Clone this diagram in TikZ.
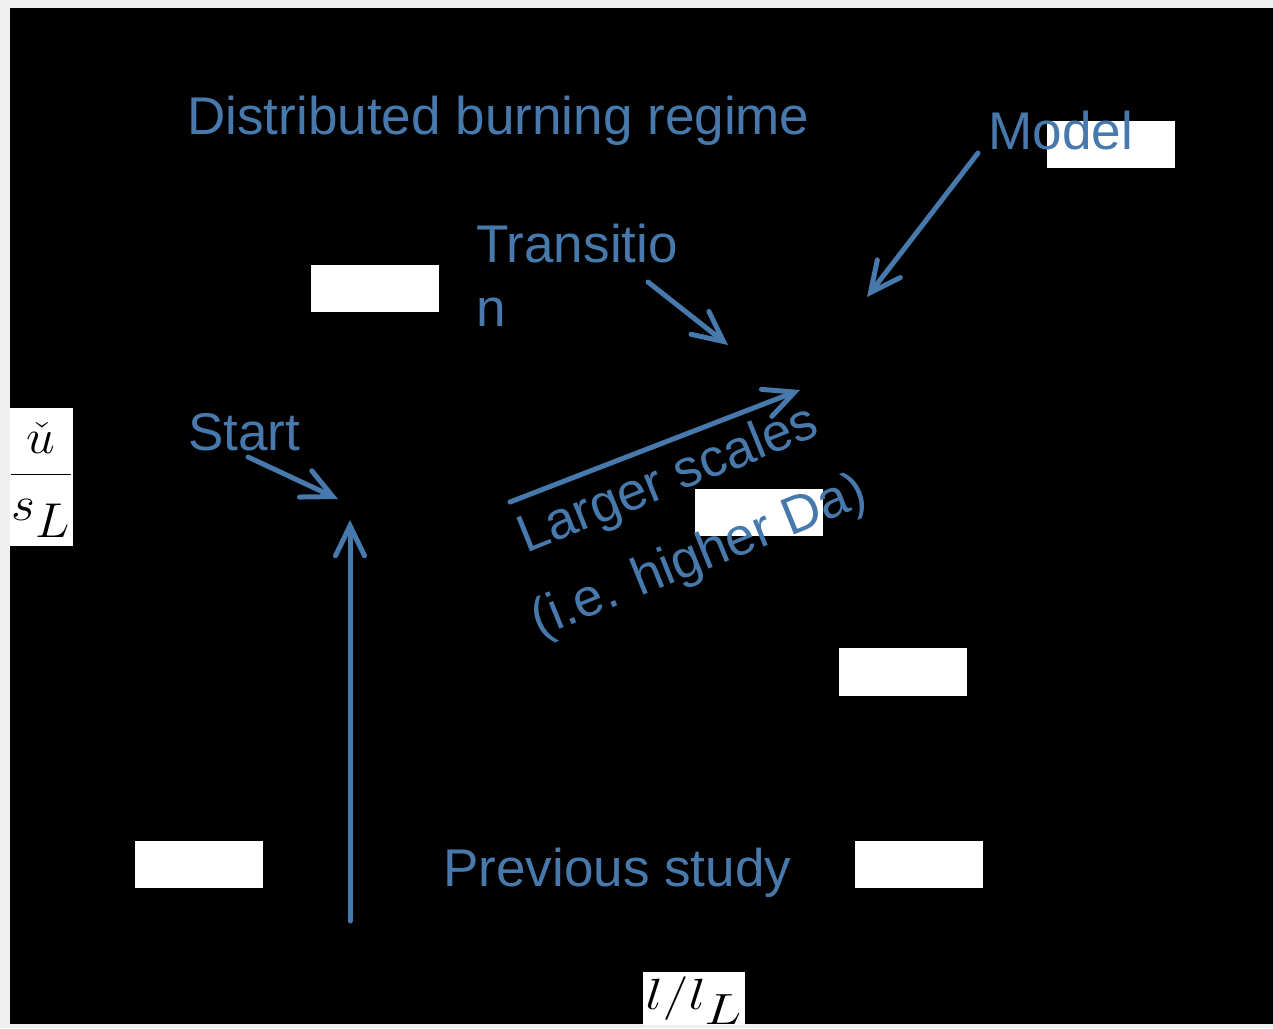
\documentclass[tikz,border=0pt]{standalone}
\usepackage{graphicx}
\usepackage{fontspec}
\setmainfont{Liberation Sans}
\usetikzlibrary{arrows.meta}
\definecolor{bgGray}{RGB}{240,240,241}
\definecolor{labBlue}{RGB}{72,121,172}
\tikzset{
  lbl/.style={text=labBlue, font=\fontsize{30.2}{36}\selectfont, inner sep=0pt},
  mathlbl/.style={text=black, inner sep=0pt},
  arr/.style={draw=labBlue, line width=0.1cm, line cap=round, line join=round,
    -{Straight Barb[length=0.6cm,width=0.58cm,line cap=round]}},
  maskbox/.style={fill=white},
}
\begin{document}
\begin{tikzpicture}[x=0.02cm,y=-0.02cm]
\useasboundingbox (0,0) rectangle (1273,1028);
\fill[bgGray] (0,0) rectangle (1273,1028);
\fill[black] (10,8) rectangle (1273,1024);
% white boxes
\fill[maskbox] (10,408) rectangle (73,546);
\fill[maskbox] (643,972) rectangle (745,1025);
\fill[maskbox] (1047,121) rectangle (1175,168);
\fill[maskbox] (311,265) rectangle (439,312);
\fill[maskbox] (695,489) rectangle (823,536);
\fill[maskbox] (839,648) rectangle (967,696);
\fill[maskbox] (135,841) rectangle (263,888);
\fill[maskbox] (855,841) rectangle (983,888);
% axis labels
\node[mathlbl, font=\fontsize{37.5}{45}\selectfont] (ylab) at (41,480)
  {\scalebox{1.18}[1.12]{$\displaystyle\frac{\check{u}}{s_L}$}};
\node[mathlbl, font=\fontsize{33}{40}\selectfont] (xlab) at (694,1001)
  {\scalebox{1.27}[1]{$l/l_L$}};
% texts
\node[lbl, anchor=base west] (dist) at (187,134) {Distributed burning regime};
\node[lbl, anchor=base west] (model) at (988,149) {Model};
\node[lbl, anchor=north west, align=left] (trans) at (476,224) {Transitio\\n};
\node[lbl, anchor=base west] (start) at (188,450) {Start};
\node[lbl, anchor=base west] (prev) at (443,886) {Previous study};
\node[lbl, font=\fontsize{30.2}{47}\selectfont, rotate=22, anchor=north west, align=center]
  (scales) at (494,525) {Larger scales\\(i.e. higher Da)};
% arrow end points
\coordinate (startTail) at (248,457);
\coordinate (startTip) at (338,499);
\coordinate (transTail) at (648,282);
\coordinate (transTip) at (728,345);
\coordinate (modelTail) at (978,153);
\coordinate (modelTip) at (867,297);
\coordinate (scaleTail) at (510,502);
\coordinate (scaleTip) at (800,390);
\coordinate (upTail) at (350,921);
\coordinate (upTip) at (350,520);
\draw[arr] (startTail) -- (startTip);
\draw[arr] (transTail) -- (transTip);
\draw[arr] (modelTail) -- (modelTip);
\draw[arr] (scaleTail) -- (scaleTip);
\draw[arr] (upTail) -- (upTip);
\end{tikzpicture}
\end{document}
